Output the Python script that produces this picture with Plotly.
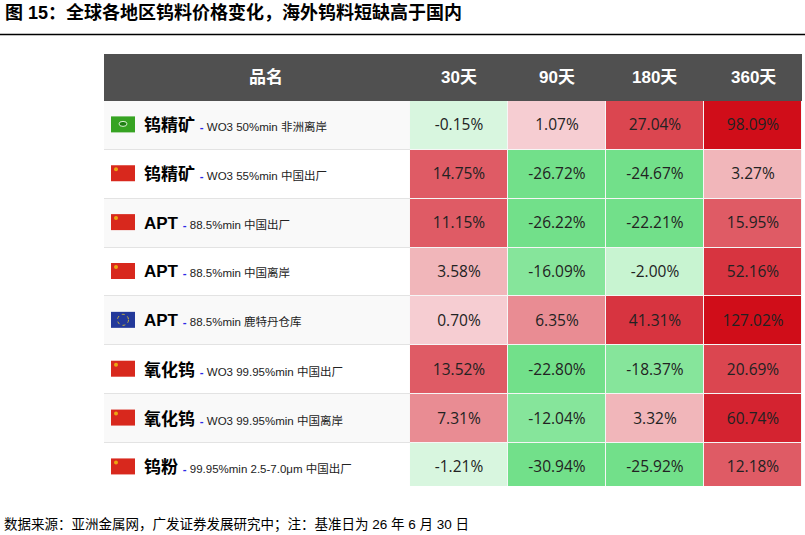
import plotly.graph_objects as go

# table data
products = ['钨精矿', '钨精矿', 'APT', 'APT', 'APT', '氧化钨', '氧化钨', '钨粉']
specs = ['WO3 50%min 非洲离岸', 'WO3 55%min 中国出厂', '88.5%min 中国出厂', '88.5%min 中国离岸',
         '88.5%min 鹿特丹仓库', 'WO3 99.95%min 中国出厂', 'WO3 99.95%min 中国离岸',
         '99.95%min 2.5-7.0μm 中国出厂']
regions = ['非洲', '中国', '中国', '中国', '欧洲', '中国', '中国', '中国']
periods = ['30天', '90天', '180天', '360天']
d30 = [-0.15, 14.75, 11.15, 3.58, 0.70, 13.52, 7.31, -1.21]
d90 = [1.07, -26.72, -26.22, -16.09, 6.35, -22.80, -12.04, -30.94]
d180 = [27.04, -24.67, -22.21, -2.00, 41.31, -18.37, 3.32, -25.92]
d360 = [98.09, 3.27, 15.95, 52.16, 127.02, 20.69, 60.74, 12.18]

title = '图 15：全球各地区钨料价格变化，海外钨料短缺高于国内'
source = '数据来源：亚洲金属网，广发证券发展研究中；注：基准日为 26 年 6 月 30 日'

# colour buckets (lower bound, colour), checked top to bottom
buckets = [(90, '#d00d19'), (55, '#d42330'), (35, '#d73440'), (18, '#db4650'),
           (10, '#df5b65'), (5, '#e98c93'), (2, '#f1b6ba'), (0, '#f6cdd2'),
           (-1.5, '#d8f6df'), (-10, '#c8f4d1'), (-20, '#86e59b'), (-1e9, '#72e08a')]


def bucket(v):
    for i, (lo, _) in enumerate(buckets):
        if v >= lo:
            return i
    return len(buckets) - 1


n = len(buckets)
cscale = [[i / (n - 1), c] for i, (_, c) in enumerate(buckets)]

cols = [d30, d90, d180, d360]
nrows = len(products)
z = [[bucket(cols[j][i]) for j in range(4)] for i in range(nrows)]
txt = [[f'{cols[j][i]:.2f}%' for j in range(4)] for i in range(nrows)]

# geometry (one value column = 1 unit)
name_w = 3.122
x_left = -0.5 - name_w
head_h = 0.961
y_top = -0.5 - head_h
y_bot = 7.38

fig = go.Figure()

# name column background, alternating stripes
fig.add_trace(go.Heatmap(
    x=[x_left, -0.5], y=list(range(nrows)),
    z=[[i % 2] for i in range(nrows)],
    colorscale=[[0, '#f9f9f9'], [1, '#ffffff']], zmin=0, zmax=1,
    ygap=1, showscale=False, hoverinfo='skip'))

fig.add_trace(go.Heatmap(
    x=[0, 1, 2, 3], y=list(range(nrows)), z=z, text=txt,
    texttemplate='%{text}',
    textfont=dict(family='Open Sans', size=15.5, color='#222222'),
    colorscale=cscale, zmin=0, zmax=n - 1,
    xgap=1, ygap=1, showscale=False, hoverinfo='skip'))

shapes = [
    dict(type='rect', xref='x', yref='y', x0=-0.5, x1=3.5, y0=-0.5, y1=y_bot,
         fillcolor='#f6f6f6', line=dict(width=0), layer='below'),
    dict(type='rect', xref='x', yref='y', x0=x_left, x1=3.5, y0=y_top, y1=-0.5,
         fillcolor='#505050', line=dict(width=0)),
    dict(type='line', xref='paper', yref='paper', x0=0, x1=1,
         y0=1 - 34.5 / 535, y1=1 - 34.5 / 535, line=dict(color='black', width=1.5)),
]

annotations = []
hfont = dict(family='Liberation Sans, Noto Sans CJK SC', size=17, color='white')
annotations.append(dict(x=(x_left - 0.5) / 2, y=(y_top - 0.5) / 2, xref='x', yref='y',
                        text='<b>品名</b>', showarrow=False, font=hfont, xshift=9))
for j, p in enumerate(periods):
    annotations.append(dict(x=j, y=(y_top - 0.5) / 2, xref='x', yref='y',
                            text=f'<b>{p}</b>', showarrow=False, font=hfont))

flag_col = {'中国': '#d8281d', '欧洲': '#23399a', '非洲': '#36a322'}
for i in range(nrows):
    r = regions[i]
    shapes.append(dict(type='rect', xref='x', yref='y', xsizemode='pixel', ysizemode='pixel',
                       xanchor=x_left, yanchor=i, x0=7, x1=31, y0=-7, y1=9,
                       fillcolor=flag_col[r], line=dict(width=0)))
    if r == '中国':
        shapes.append(dict(type='circle', xref='x', yref='y', xsizemode='pixel', ysizemode='pixel',
                           xanchor=x_left, yanchor=i, x0=10, x1=14, y0=3, y1=7,
                           fillcolor='#f1c40f', line=dict(width=0), opacity=0.8))
    elif r == '欧洲':
        shapes.append(dict(type='circle', xref='x', yref='y', xsizemode='pixel', ysizemode='pixel',
                           xanchor=x_left, yanchor=i, x0=13.5, x1=24.5, y0=-4.5, y1=6.5,
                           line=dict(color='#c9b43c', width=1, dash='dot')))
    else:
        shapes.append(dict(type='circle', xref='x', yref='y', xsizemode='pixel', ysizemode='pixel',
                           xanchor=x_left, yanchor=i, x0=15, x1=23, y0=-1, y1=4,
                           fillcolor='#1e7f12', line=dict(color='#d8f0d0', width=1)))
    annotations.append(dict(
        x=x_left, y=i, xref='x', yref='y', xanchor='left', xshift=38, showarrow=False,
        text=(f'<b>{products[i]}</b> <span style="font-size:11.5px;color:#2b2be6"><b>-</b></span>'
              f'<span style="font-size:11.5px;color:#222222"> {specs[i]}</span>'),
        font=dict(family='Liberation Sans, Noto Sans CJK SC', size=17, color='black')))

annotations.append(dict(x=0.004, y=1 - 12.5 / 535, xref='paper', yref='paper',
                        xanchor='left', yanchor='middle',
                        text=f'<b>{title}</b>', showarrow=False,
                        font=dict(family='Liberation Sans, Noto Sans CJK SC', size=18, color='black')))
annotations.append(dict(x=0.003, y=1 - 524.5 / 535, xref='paper', yref='paper',
                        xanchor='left', yanchor='middle',
                        text=source, showarrow=False,
                        font=dict(family='Liberation Sans, Noto Sans CJK SC', size=13.5, color='black')))

fig.update_layout(
    width=805, height=535, margin=dict(l=0, r=0, t=0, b=0),
    paper_bgcolor='white', plot_bgcolor='#e3e3e3',
    xaxis=dict(domain=[104 / 805, 802 / 805], range=[x_left, 3.5], visible=False, fixedrange=True),
    yaxis=dict(domain=[1 - 486 / 535, 1 - 54 / 535], range=[y_bot, y_top], visible=False, fixedrange=True),
    shapes=shapes, annotations=annotations, showlegend=False)

fig.write_html('out.html', config={'displayModeBar': False},
               post_script="document.body.style.margin='0';")
